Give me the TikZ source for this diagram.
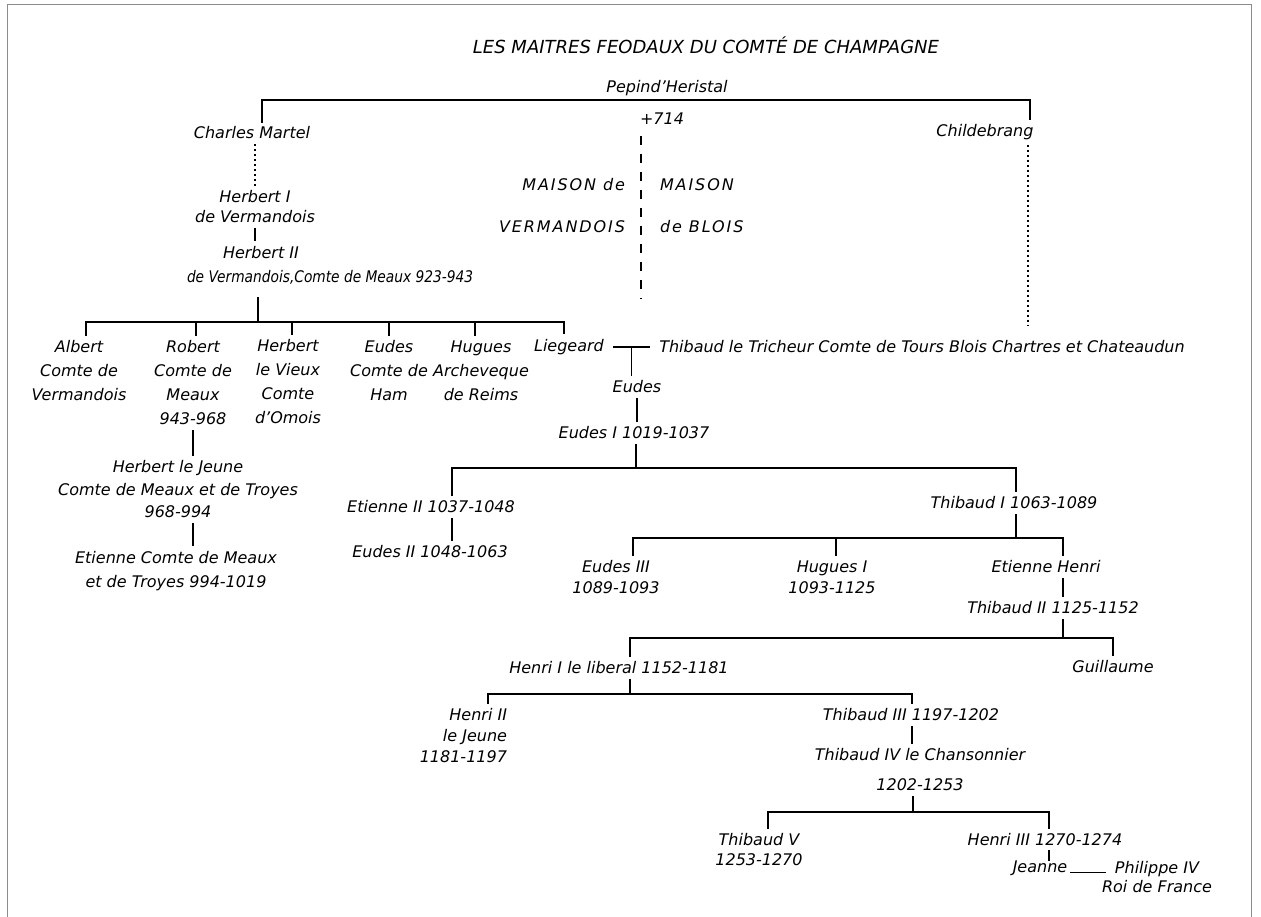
\documentclass[tikz,border=0pt]{standalone}
\usepackage{fontspec}
\usepackage{graphicx}
\setmainfont{DejaVu Sans}
\newfontfamily\spacedf[LetterSpace=12]{DejaVu Sans}
\begin{document}
\begin{tikzpicture}[x=1pt,y=-1pt,
  every node/.style={inner sep=0pt, outer sep=5pt, align=center, font=\fontsize{16}{24}\selectfont\itshape},
  lsp/.style={font=\fontsize{16}{#1}\selectfont\itshape},
  bar/.style={line width=1.6pt, line cap=rect},
  tick/.style={line width=1.4pt},
  dashv/.style={line width=1.4pt, dash pattern=on 9pt off 9pt},
  dotv/.style={line width=1.3pt, dash pattern=on 2pt off 3pt},
  frame/.style={line width=1pt, draw=black!45}]
\fill[white] (0,0) rectangle (1261,917);
\useasboundingbox (0,0) rectangle (1261,917);
\draw[frame] (7,917) -- (7,5) -- (1251,5) -- (1251,917);

% texts
\node[font=\fontsize{18}{20}\selectfont\itshape] (title) at (706,45) {LES MAITRES FEODAUX DU COMTÉ DE CHAMPAGNE};
\node (pepin) at (667,88) {Pepind'Heristal};
\node (d714) at (662,119) {+714};
\node (charles) at (252,133) {Charles Martel};
\node (childe) at (985,132) {Childebrang};
\node[font=\fontsize{16}{42}\selectfont\spacedf\itshape, align=right, anchor=east] (maisonV) at (630,206) {MAISON de\\VERMANDOIS};
\node[font=\fontsize{16}{42}\selectfont\spacedf\itshape, align=left, anchor=west] (maisonB) at (655,206) {MAISON\\de BLOIS};
\node[lsp=20] (herb1) at (255,207) {Herbert I\\de Vermandois};
\node[align=left, anchor=west] (herb2) at (182,265) {\hspace*{36pt}Herbert II\\\scalebox{0.86}[1]{de Vermandois,Comte de Meaux 923-943}};
\node (albert) at (79,371) {Albert\\Comte de\\Vermandois};
\node (robert) at (193,383) {Robert\\Comte de\\Meaux\\943-968};
\node (herbv) at (288,382) {Herbert\\le Vieux\\Comte\\d'Omois};
\node (eudesh) at (389,371) {Eudes\\Comte de\\Ham};
\node (hugues) at (481,371) {Hugues\\Archeveque\\de Reims};
\node (liegeard) at (569,347) {Liegeard};
\node (thibT) at (922,347) {Thibaud le Tricheur Comte de Tours Blois Chartres et Chateaudun};
\node (eudes) at (637,387) {Eudes};
\node (eudes1) at (634,433) {Eudes I 1019-1037};
\node[lsp=22.5] (hjeune) at (178,489.5) {Herbert le Jeune\\Comte de Meaux et de Troyes\\968-994};
\node (etienneC) at (176,571) {Etienne Comte de Meaux\\et de Troyes 994-1019};
\node (etienne2) at (431,507) {Etienne II 1037-1048};
\node (eudes2) at (430,552) {Eudes II 1048-1063};
\node (thib1) at (1014,503) {Thibaud I 1063-1089};
\node[lsp=21] (eudes3) at (616,577.5) {Eudes III\\1089-1093};
\node[lsp=21] (hugues1) at (832,577.5) {Hugues I\\1093-1125};
\node (etHenri) at (1046,567) {Etienne Henri};
\node (thib2) at (1053,608) {Thibaud II 1125-1152};
\node (henri1) at (619,668) {Henri I le liberal 1152-1181};
\node (guillaume) at (1113,667) {Guillaume};
\node[lsp=21, align=right, anchor=east] (henri2) at (512,736) {Henri II\\le Jeune\\1181-1197};
\node (thib3) at (911,715) {Thibaud III 1197-1202};
\node[lsp=30] (thib4) at (920,770) {Thibaud IV le Chansonnier\\1202-1253};
\node[lsp=20] (thib5) at (759,850) {Thibaud V\\1253-1270};
\node (henri3) at (1045,840) {Henri III 1270-1274};
\node (jeanne) at (1040,868) {Jeanne};
\node[lsp=19] (philippe) at (1157,877.5) {Philippe IV\\Roi de France};

% top bar
\coordinate (tL) at (262,100);
\coordinate (tR) at (1030,100);
\draw[bar] (tL |- charles.north) -- (tL) -- (tR) -- (tR |- childe.north);
\coordinate (dEnd) at (641,298);
\draw[dashv, shorten <=6pt] (dEnd |- d714.south) -- (dEnd);
\draw[dotv] (herb1.north |- charles.south) -- (herb1.north);
\coordinate (cdEnd) at (1028,325);
\draw[dotv] (cdEnd |- childe.south) -- (cdEnd);
\draw[tick] (herb1.south) -- (herb1.south |- herb2.north);

% Herbert II children
\coordinate (b1c) at (258,322);
\coordinate (b1a) at (86,322);
\coordinate (b1b) at (196,322);
\coordinate (b1d) at (292,322);
\coordinate (b1e) at (389,322);
\coordinate (b1f) at (475,322);
\coordinate (b1g) at (564,322);
\draw[tick, shorten <=8pt] (b1c |- herb2.south) -- (b1c);
\draw[bar] (b1a) -- (b1g);
\draw[tick] (b1a) -- (b1a |- albert.north);
\draw[tick] (b1b) -- (b1b |- robert.north);
\draw[tick] (b1d) -- (b1d |- herbv.north);
\draw[tick] (b1e) -- (b1e |- eudesh.north);
\draw[tick] (b1f) -- (b1f |- hugues.north);
\draw[tick] (b1g) -- (b1g |- liegeard.north);
\draw[tick] (robert.south) -- (robert.south |- hjeune.north);
\draw[tick] (robert.south |- hjeune.south) -- (robert.south |- etienneC.north);

% marriage Liegeard - Thibaud
\path (liegeard.east) -- coordinate[pos=.5] (mar1) (thibT.west);
\draw[bar, shorten <=5pt, shorten >=5pt] (liegeard.east) -- (thibT.west);
\draw[tick] (mar1) -- (mar1 |- eudes.north);
\draw[tick] (eudes.south) -- (eudes.south |- eudes1.north);

% Eudes I children
\coordinate (b2c) at (636,468);
\coordinate (b2a) at (452,468);
\coordinate (b2b) at (1016,468);
\draw[tick] (b2c |- eudes1.south) -- (b2c);
\draw[bar] (b2a) -- (b2b);
\draw[tick] (b2a) -- (b2a |- etienne2.north);
\draw[tick] (b2b) -- (b2b |- thib1.north);
\draw[tick] (b2a |- etienne2.south) -- (b2a |- eudes2.north);

% Thibaud I children
\coordinate (b3c) at (1016,538);
\coordinate (b3a) at (633,538);
\coordinate (b3b) at (836,538);
\coordinate (b3d) at (1063,538);
\draw[tick] (b3c |- thib1.south) -- (b3c);
\draw[bar] (b3a) -- (b3d);
\draw[tick] (b3a) -- (b3a |- eudes3.north);
\draw[tick] (b3b) -- (b3b |- hugues1.north);
\draw[tick] (b3d) -- (b3d |- etHenri.north);
\draw[tick] (b3d |- etHenri.south) -- (b3d |- thib2.north);

% Thibaud II children
\coordinate (b4c) at (1063,638);
\coordinate (b4a) at (630,638);
\coordinate (b4b) at (1113,638);
\draw[tick] (b4c |- thib2.south) -- (b4c);
\draw[bar] (b4a) -- (b4b);
\draw[tick] (b4a) -- (b4a |- henri1.north);
\draw[tick] (b4b) -- (b4b |- guillaume.north);

% Henri I children
\coordinate (b5c) at (630,694);
\coordinate (b5a) at (488,694);
\coordinate (b5b) at (912,694);
\draw[tick] (b5c |- henri1.south) -- (b5c);
\draw[bar] (b5a) -- (b5b);
\draw[tick] (b5a) -- (b5a |- henri2.north);
\draw[tick] (b5b) -- (b5b |- thib3.north);
\draw[tick] (b5b |- thib3.south) -- (b5b |- thib4.north);

% Thibaud IV children
\coordinate (b6c) at (913,812);
\coordinate (b6a) at (768,812);
\coordinate (b6b) at (1049,812);
\draw[tick] (b6c |- thib4.south) -- (b6c);
\draw[bar] (b6a) -- (b6b);
\draw[tick] (b6a) -- (b6a |- thib5.north);
\draw[tick] (b6b) -- (b6b |- henri3.north);
\draw[tick, shorten <=-1pt, shorten >=-5pt] (b6b |- henri3.south) -- (b6b |- jeanne.north);
\draw[tick, shorten <=-2pt, shorten >=-9pt] (jeanne.base east) -- (jeanne.base east -| philippe.west);
\end{tikzpicture}
\end{document}
